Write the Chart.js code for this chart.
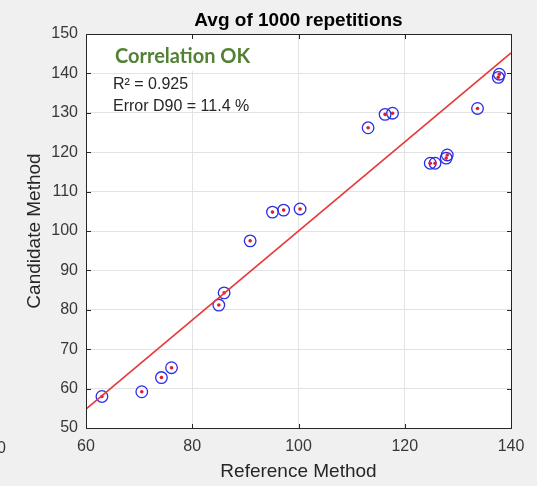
<!DOCTYPE html>
<html>
<head>
<meta charset="utf-8">
<script src="https://cdn.jsdelivr.net/npm/chart.js@4.4.1/dist/chart.umd.min.js"></script>
<style>
  html, body { margin: 0; padding: 0; background: #f0f0f0; }
  #wrap { width: 537px; height: 486px; }
  canvas { display: block; }
</style>
</head>
<body>
<div id="wrap"><canvas id="c" width="537" height="486"></canvas></div>
<script>
// ---- data ----
const referenceValues = [63.0, 70.5, 74.2, 76.1, 85.0, 86.0, 90.9, 95.1, 97.2, 100.3,
                         113.1, 116.3, 117.7, 124.8, 125.7, 127.8, 128.0, 133.7, 137.6, 137.8];
const candidateValues = [58.0, 59.2, 62.8, 65.3, 81.2, 84.3, 97.5, 104.8, 105.3, 105.6,
                         126.2, 129.6, 129.9, 117.2, 117.2, 118.5, 119.3, 131.1, 139.0, 139.8];
const fitLineX = [60, 140];
const fitLineY = [54.8, 145.2];
const xTickValues = [60, 80, 100, 120, 140];
const yTickValues = [50, 60, 70, 80, 90, 100, 110, 120, 130, 140, 150];
const chartTitle = 'Avg of 1000 repetitions';
const xAxisTitle = 'Reference Method';
const yAxisTitle = 'Candidate Method';
const statusLabel = 'Correlation OK';
const statLines = ['R\u00B2 = 0.925', 'Error D90 = 11.4 %'];

const FONT = "'Liberation Sans', Arial, Helvetica, sans-serif";

const points = referenceValues.map((x, i) => ({ x: x, y: candidateValues[i] }));
const fitPoints = fitLineX.map((x, i) => ({ x: x, y: fitLineY[i] }));

const frame = {
  id: 'frame',
  beforeDraw(chart) {
    const { ctx, chartArea: a } = chart;
    ctx.save();
    ctx.fillStyle = '#f0f0f0';
    ctx.fillRect(0, 0, chart.width, chart.height);
    ctx.fillStyle = '#ffffff';
    ctx.fillRect(a.left, a.top, a.right - a.left, a.bottom - a.top);
    ctx.restore();
  },
  beforeDatasetsDraw(chart) {
    const { ctx } = chart;
    ctx.save();
    // annotation box
    ctx.fillStyle = '#ffffff';
    ctx.fillRect(112, 39, 146, 32);
    ctx.restore();
  },
  afterDatasetsDraw(chart) {
    const { ctx, chartArea: a, scales } = chart;
    ctx.save();
    const L = Math.round(a.left) + 0.5, R = Math.round(a.right) + 0.5;
    const T = Math.round(a.top) + 0.5, B = Math.round(a.bottom) + 0.5;
    ctx.strokeStyle = '#262626';
    ctx.lineWidth = 1;
    ctx.beginPath();
    ctx.rect(L, T, R - L, B - T);
    const tl = 4.5;
    xTickValues.forEach(v => {
      const px = Math.round(scales.x.getPixelForValue(v)) + 0.5;
      ctx.moveTo(px, B); ctx.lineTo(px, B - tl);
      ctx.moveTo(px, T); ctx.lineTo(px, T + tl);
    });
    yTickValues.forEach(v => {
      const py = Math.round(scales.y.getPixelForValue(v)) + 0.5;
      ctx.moveTo(L, py); ctx.lineTo(L + tl, py);
      ctx.moveTo(R, py); ctx.lineTo(R - tl, py);
    });
    ctx.stroke();

    // title, centred over the plot area
    ctx.fillStyle = '#000000';
    ctx.font = 'bold 19px ' + FONT;
    ctx.textAlign = 'center';
    ctx.textBaseline = 'alphabetic';
    ctx.fillText(chartTitle, (a.left + a.right) / 2, 25.7);

    // text annotations
    ctx.textAlign = 'left';
    ctx.fillStyle = '#538135';
    ctx.font = "bold 20px Lato, 'Open Sans', sans-serif";
    ctx.fillText(statusLabel, 115, 62.7, 139);
    ctx.fillStyle = '#262626';
    ctx.font = '16px ' + FONT;
    ctx.fillText(statLines[0], 113, 88.5);
    ctx.fillText(statLines[1], 113, 110.5);

    // cropped glyph at left edge of the original image
    ctx.fillStyle = '#333333';
    ctx.fillText('0', -3, 453);
    ctx.restore();
  }
};

new Chart(document.getElementById('c'), {
  data: {
    datasets: [
      {
        type: 'line',
        data: fitPoints,
        borderColor: 'rgb(232,58,58)',
        borderWidth: 1.5,
        pointRadius: 0,
        fill: false,
        order: 0
      },
      {
        type: 'scatter',
        data: points,
        pointRadius: 1.8,
        pointBackgroundColor: 'rgb(220,30,50)',
        pointBorderWidth: 0,
        order: 1
      },
      {
        type: 'scatter',
        data: points,
        pointRadius: 5.8,
        pointBackgroundColor: 'rgba(0,0,0,0)',
        pointBorderColor: 'rgb(45,45,230)',
        pointBorderWidth: 1.3,
        order: 2
      }
    ]
  },
  options: {
    responsive: false,
    animation: false,
    devicePixelRatio: 1,
    layout: { padding: { left: 0, right: 26, top: 34, bottom: 0 } },
    plugins: {
      legend: { display: false },
      tooltip: { enabled: false },
      title: { display: false }
    },
    scales: {
      x: {
        type: 'linear',
        min: 60, max: 140,
        afterBuildTicks: s => { s.ticks = xTickValues.map(v => ({ value: v })); },
        afterFit: s => { s.height = 58; },
        grid: { color: '#e3e3e3', drawTicks: false, lineWidth: 1 },
        border: { display: false },
        ticks: { color: '#383838', padding: 9.4, font: { family: FONT, size: 16 }, maxRotation: 0 },
        title: { display: true, text: xAxisTitle, color: '#262626', font: { family: FONT, size: 19 }, padding: { top: 0, bottom: 2.6 } }
      },
      y: {
        type: 'linear',
        min: 50, max: 150,
        afterBuildTicks: s => { s.ticks = yTickValues.map(v => ({ value: v })); },
        afterFit: s => { s.width = 86; },
        grid: { color: '#e3e3e3', drawTicks: false, lineWidth: 1 },
        border: { display: false },
        ticks: { color: '#383838', padding: 8, font: { family: FONT, size: 16 } },
        title: { display: true, text: yAxisTitle, color: '#262626', font: { family: FONT, size: 19 }, padding: { top: 23.6, bottom: 0 } }
      }
    }
  },
  plugins: [frame]
});
</script>
</body>
</html>
